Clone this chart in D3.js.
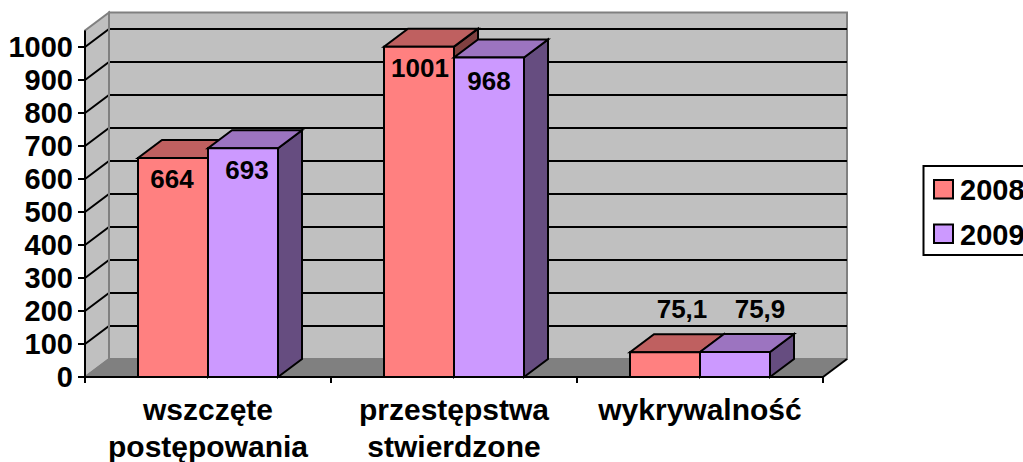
<!DOCTYPE html>
<html><head><meta charset="utf-8">
<script src="https://cdn.jsdelivr.net/npm/d3@7"></script>
<style>html,body{margin:0;padding:0;background:#fff;overflow:hidden}svg{display:block}text{font-family:"Liberation Sans",Arial,sans-serif;font-weight:bold;fill:#000}</style>
</head><body><svg id="c" width="1023" height="462"></svg>
<script>
const categories = [["wszczęte","postępowania"],["przestępstwa","stwierdzone"],["wykrywalność"]];
const seriesNames = ["2008","2009"];
const values2008 = [664,1001,75.1];
const values2009 = [693,968,75.9];
const labels2008 = ["664","1001","75,1"];
const labels2009 = ["693","968","75,9"];
const yTicks = [0,100,200,300,400,500,600,700,800,900,1000];

const frontColors = ["#FF8080","#CC99FF"], topColors = ["#BF6060","#9C74C0"], sideColors = ["#804040","#664D80"];
const dx = 24, dy = -18;
const svg = d3.select("#c");
const x = d3.scaleBand().domain(d3.range(categories.length)).range([85,823]);
const y = d3.scaleLinear().domain([0,1000]).range([377,47]);
const wallTop = y(1050);
const inner = d3.scaleBand().domain([0,1]).range([53,193]);
const poly = (pts,fill,stroke,sw)=>svg.append("polygon").attr("points",pts.map(p=>p.join(",")).join(" ")).attr("fill",fill).attr("stroke",stroke||"none").attr("stroke-width",sw||0).attr("stroke-linejoin","miter");
const x0=x.range()[0], x1=x.range()[1];
// walls
poly([[x0+dx,y(0)+dy],[x1+dx,y(0)+dy],[x1+dx,wallTop+dy],[x0+dx,wallTop+dy]],"#C0C0C0","#808080",2);
poly([[x0,y(0)],[x0+dx,y(0)+dy],[x0+dx,wallTop+dy],[x0,wallTop]],"#C0C0C0","#808080",2);
poly([[x0,y(0)],[x1,y(0)],[x1+dx,y(0)+dy],[x0+dx,y(0)+dy]],"#808080");
// grid
yTicks.filter(t=>t>0).forEach(t=>{
  svg.append("polyline").attr("points",`${x0},${y(t)} ${x0+dx},${y(t)+dy} ${x1+dx},${y(t)+dy}`).attr("fill","none").attr("stroke","#000").attr("stroke-width",2);
});
svg.append("line").attr("x1",x0).attr("y1",y(0)).attr("x2",x0+dx).attr("y2",y(0)+dy).attr("stroke","#808080").attr("stroke-width",1.5);
svg.append("line").attr("x1",x0+dx).attr("y1",y(0)+dy).attr("x2",x0+dx).attr("y2",wallTop+dy).attr("stroke","#808080").attr("stroke-width",2);
svg.append("line").attr("x1",x1).attr("y1",y(0)).attr("x2",x1+dx).attr("y2",y(0)+dy).attr("stroke","#000").attr("stroke-width",2);
// axes
svg.append("line").attr("x1",x0).attr("y1",wallTop).attr("x2",x0).attr("y2",y(0)+6).attr("stroke","#000").attr("stroke-width",2);
svg.append("line").attr("x1",x0-7).attr("y1",y(0)).attr("x2",x1).attr("y2",y(0)).attr("stroke","#000").attr("stroke-width",2);
yTicks.forEach(t=>{
  svg.append("line").attr("x1",x0-7).attr("y1",y(t)).attr("x2",x0).attr("y2",y(t)).attr("stroke","#000").attr("stroke-width",2);
  svg.append("text").attr("x",x0-12).attr("y",y(t)+9.5).attr("text-anchor","end").attr("font-size",29).text(t);
});
d3.range(1,categories.length+1).forEach(i=>{
  const px=x0+x.step()*i;
  svg.append("line").attr("x1",px).attr("y1",y(0)).attr("x2",px).attr("y2",y(0)+6).attr("stroke","#000").attr("stroke-width",2);
});
// bars
const series=[values2008,values2009], labels=[labels2008,labels2009];
categories.forEach((c,i)=>{
  [0,1].forEach(s=>{
    const l=x(i)+inner(s), r=l+inner.bandwidth(), t=y(series[s][i]), b=y(0);
    poly([[r,b],[r+dx,b+dy],[r+dx,t+dy],[r,t]],sideColors[s],"#000",2);
    poly([[l,t],[r,t],[r+dx,t+dy],[l+dx,t+dy]],topColors[s],"#000",2);
    poly([[l,t],[r,t],[r,b],[l,b]],frontColors[s],"#000",2);
  });
});
const labelOffsets=[[[-1,30],[4,31]],[[1,30],[0,32]],[[17,-34],[25,-34]]];
categories.forEach((c,i)=>{
  [0,1].forEach(s=>{
    const cx=x(i)+inner(s)+inner.bandwidth()/2, t=y(series[s][i]), o=labelOffsets[i][s];
    svg.append("text").attr("x",cx+o[0]).attr("y",t+o[1]).attr("text-anchor","middle").attr("font-size",26).text(labels[s][i]);
  });
  c.forEach((line,k)=>{
    svg.append("text").attr("x",x(i)+x.bandwidth()/2).attr("y",420+k*36.5).attr("text-anchor","middle").attr("font-size",30).text(line);
  });
});
// legend
svg.append("rect").attr("x",923.5).attr("y",166).attr("width",120).attr("height",89).attr("fill","#fff").attr("stroke","#000").attr("stroke-width",2);
seriesNames.forEach((n,i)=>{
  svg.append("rect").attr("x",934).attr("y",180+i*44.5).attr("width",19).attr("height",18.5).attr("fill",frontColors[i]).attr("stroke","#000").attr("stroke-width",2);
  svg.append("text").attr("x",960).attr("y",200+i*44.5).attr("font-size",29).text(n);
});
</script></body></html>
